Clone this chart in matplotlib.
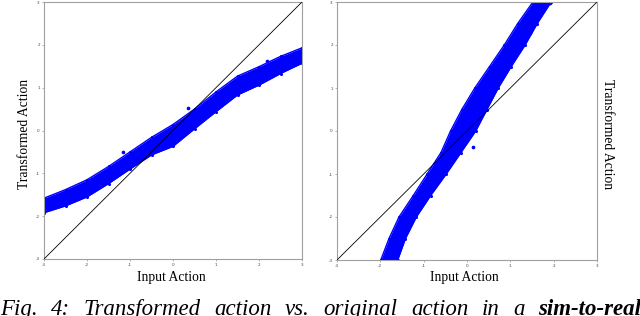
import matplotlib
matplotlib.use("Agg")
import matplotlib.pyplot as plt

W, H = 640, 316

# Left panel: band of transformed action (upper/lower envelope) vs input action
left_x = [-3, -2.5, -2, -1.5, -1, -0.5, 0, 0.5, 1, 1.5, 2, 2.5, 3]
left_upper = [-1.58, -1.38, -1.15, -0.84, -0.50, -0.16, 0.14, 0.50, 0.90, 1.27, 1.49, 1.73, 1.93]
left_lower = [-1.92, -1.76, -1.55, -1.24, -0.90, -0.57, -0.37, 0.04, 0.44, 0.83, 1.06, 1.33, 1.57]
left_out_x = [2.19, 0.35, -1.16]
left_out_y = [1.62, 0.53, -0.50]

# Right panel: input-action range of the band at each transformed-action level
right_y = [-3, -2.5, -2, -1.5, -1, -0.5, 0, 0.5, 1, 1.5, 2, 2.5, 3]
right_lo = [-1.99, -1.80, -1.57, -1.24, -0.92, -0.60, -0.38, -0.12, 0.18, 0.52, 0.86, 1.17, 1.52]
right_hi = [-1.60, -1.42, -1.17, -0.84, -0.48, -0.14, 0.20, 0.46, 0.72, 1.02, 1.34, 1.62, 1.94]
right_out_x = [1.46, 0.14, 1.92]
right_out_y = [2.28, -0.37, 2.98]

ticks = [-3, -2, -1, 0, 1, 2, 3]
tick_labels = ["-3", "-2", "-1", "0", "1", "2", "3"]
diag = [-3, 3]

cap_words = ["Fig.", "4:", "Transformed", "action", "vs.", "original", "action", "in", "a", "sim-to-real"]
cap_bold = [False, False, False, False, False, False, False, False, False, True]

BLUE = "#0000ff"
SPINE = "#a0a0a0"

fig = plt.figure(figsize=(W / 100, H / 100), dpi=100)
fig.patch.set_facecolor("white")

def px_rect(x0, y0, x1, y1):
    return [x0 / W, 1 - y1 / H, (x1 - x0) / W, (y1 - y0) / H]

axL = fig.add_axes(px_rect(44, 2, 302, 259))
axR = fig.add_axes(px_rect(337, 2, 597, 260))

for ax in (axL, axR):
    ax.set_xlim(-3, 3)
    ax.set_ylim(-3, 3)
    ax.set_xticks(ticks)
    ax.set_yticks(ticks)
    ax.set_xticklabels(tick_labels)
    ax.set_yticklabels(tick_labels)
    ax.tick_params(labelsize=3, length=1.5, width=0.4, color="#777777",
                   labelcolor="#444444", pad=1.5)
    for s in ax.spines.values():
        s.set_color(SPINE)
        s.set_linewidth(0.8)
    ax.plot(diag, diag, color="black", lw=0.6, zorder=5)

# Left band
axL.fill_between(left_x, left_lower, left_upper, color=BLUE, lw=0, zorder=2)
axL.plot(left_x, left_upper, color=BLUE, lw=1.0, solid_capstyle="round", zorder=2)
axL.plot(left_x, left_lower, color=BLUE, lw=1.0, solid_capstyle="round", zorder=2)
axL.scatter(left_x, left_upper, s=5, color=BLUE, lw=0, zorder=2)
axL.scatter(left_x, left_lower, s=5, color=BLUE, lw=0, zorder=2)
axL.scatter(left_out_x, left_out_y, s=7, color=BLUE, lw=0, zorder=2)

# Right band
axR.fill_betweenx(right_y, right_lo, right_hi, color=BLUE, lw=0, zorder=2)
axR.plot(right_lo, right_y, color=BLUE, lw=1.0, solid_capstyle="round", zorder=2)
axR.plot(right_hi, right_y, color=BLUE, lw=1.0, solid_capstyle="round", zorder=2)
axR.scatter(right_lo, right_y, s=5, color=BLUE, lw=0, zorder=2)
axR.scatter(right_hi, right_y, s=5, color=BLUE, lw=0, zorder=2)
axR.scatter(right_out_x, right_out_y, s=7, color=BLUE, lw=0, zorder=2)

serif = ["Liberation Serif", "DejaVu Serif"]
fs = 9.8
fig.text(25 / W, 1 - 134 / H, "Transformed Action", rotation=90, ha="center", va="center",
         family=serif, fontsize=fs)
fig.text(608 / W, 1 - 134 / H, "Transformed Action", rotation=-90, ha="center", va="center",
         family=serif, fontsize=fs)
fig.text(171 / W, 1 - 278 / H, "Input Action", ha="center", va="center", family=serif, fontsize=fs)
fig.text(464 / W, 1 - 278 / H, "Input Action", ha="center", va="center", family=serif, fontsize=fs)

# Caption, justified across the full width and cut off at the bottom edge
cap_texts = []
for w, b in zip(cap_words, cap_bold):
    t = fig.text(0, 1 - 315 / H, w, ha="left", va="baseline", family=serif,
                 fontsize=16.5, style="italic", weight="bold" if b else "normal")
    cap_texts.append(t)
fig.canvas.draw()
renderer = fig.canvas.get_renderer()
widths = [t.get_window_extent(renderer).width for t in cap_texts]
left_edge, right_edge = 0.0, 641.0
gap = (right_edge - left_edge - sum(widths)) / (len(widths) - 1)
x = left_edge
for t, wd in zip(cap_texts, widths):
    t.set_x(x / W)
    x += wd + gap

fig.savefig("out.png", dpi=100, facecolor="white")
